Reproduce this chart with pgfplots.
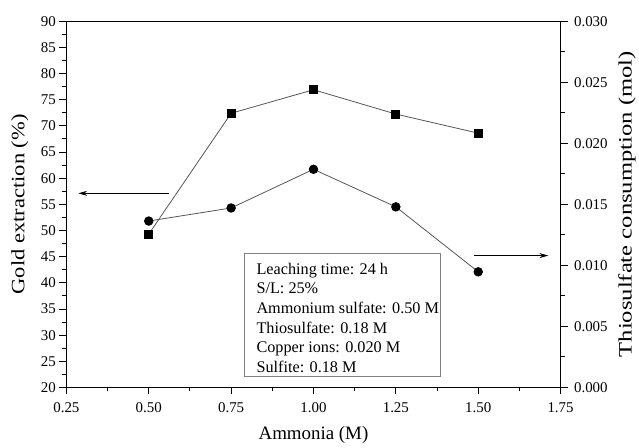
\documentclass[border=0pt]{standalone}
\usepackage{pgfplots}
\pgfplotsset{compat=1.18}
\usepackage{fontspec}
\setmainfont{Liberation Serif}
\usetikzlibrary{arrows.meta}
\definecolor{serline}{HTML}{555555}
\begin{document}
\begin{tikzpicture}
\pgfplotsset{
  every axis/.append style={
    scale only axis, width=496.6pt, height=368pt,
    xmin=0.25, xmax=1.75,
    major tick length=7pt, minor tick length=4pt,
    font=\fontsize{15}{18}\selectfont,
    /pgf/number format/assume math mode=true,
    axis line style={line width=1pt},
    every tick/.style={black, line width=0.9pt},
    clip=false,
  },
}
\begin{axis}[
  ymin=20, ymax=90,
  ytick={20,25,30,35,40,45,50,55,60,65,70,75,80,85,90},
  minor y tick num=1,
  xtick={0.25,0.5,0.75,1,1.25,1.5,1.75},
  minor x tick num=1,
  xtick pos=bottom, ytick pos=left,
  tick align=outside,
  xticklabel style={/pgf/number format/fixed, /pgf/number format/fixed zerofill, /pgf/number format/precision=2, yshift=-5pt},
  xlabel={Ammonia (M)},
  xlabel style={font=\fontsize{19}{22}\selectfont, at={(axis description cs:0.5,-0.1432)}, anchor=base},
  ylabel={\scalebox{1.19}[1]{Gold extraction (\%)}},
  ylabel style={font=\fontsize{19}{22}\selectfont, at={(axis description cs:-0.094,0.5)}, anchor=center},
]
\addplot[serline, line width=0.8pt, mark=square*, mark size=4pt, mark options={black, fill=black, solid}]
  coordinates {(0.5,49.3) (0.75,72.4) (1.0,76.9) (1.25,72.25) (1.5,68.6)};
\draw[line width=1pt, -{Stealth[length=9pt,width=5pt]}] (axis cs:0.561,57.1) -- (axis cs:0.286,57.1);
\draw[line width=1pt, -{Stealth[length=9pt,width=5pt]}] (axis cs:1.487,45.2) -- (axis cs:1.713,45.2);
\draw[gray, line width=0.8pt] (axis cs:0.79,45.68) rectangle (axis cs:1.384,22.2);
\node[anchor=north west, align=left, inner sep=0pt, font=\fontsize{16.3}{19.7}\selectfont] at (axis cs:0.8265,43.8)
  {Leaching time: 24 h\\S/L: 25\%\\Ammonium sulfate: 0.50 M\\Thiosulfate: 0.18 M\\Copper ions: 0.020 M\\Sulfite: 0.18 M};
\path (rel axis cs:0,0) ++(-66.7pt,-59pt) coordinate (bl);
\path (rel axis cs:1,1) ++(75.7pt,21.3pt) coordinate (tr);
\end{axis}
\begin{axis}[
  ymin=0, ymax=0.03,
  ytick={0,0.005,0.01,0.015,0.02,0.025,0.03},
  minor y tick num=1,
  axis y line*=right, axis x line=none,
  tick align=outside,
  scaled y ticks=false,
  yticklabel style={/pgf/number format/fixed, /pgf/number format/fixed zerofill, /pgf/number format/precision=3, xshift=3pt},
  ylabel={\scalebox{1.3}[1]{Thiosulfate consumption (mol)}},
  ylabel style={font=\fontsize{19}{22}\selectfont, at={(axis description cs:1.1344,0.5)}, anchor=center},
]
\addplot[serline, line width=0.8pt, mark=*, mark size=4.3pt, mark options={black, fill=black, solid}]
  coordinates {(0.5,0.01363) (0.75,0.0147) (1.0,0.01787) (1.25,0.01479) (1.5,0.00947)};
\end{axis}
\path (bl) rectangle (tr);
\end{tikzpicture}
\end{document}
